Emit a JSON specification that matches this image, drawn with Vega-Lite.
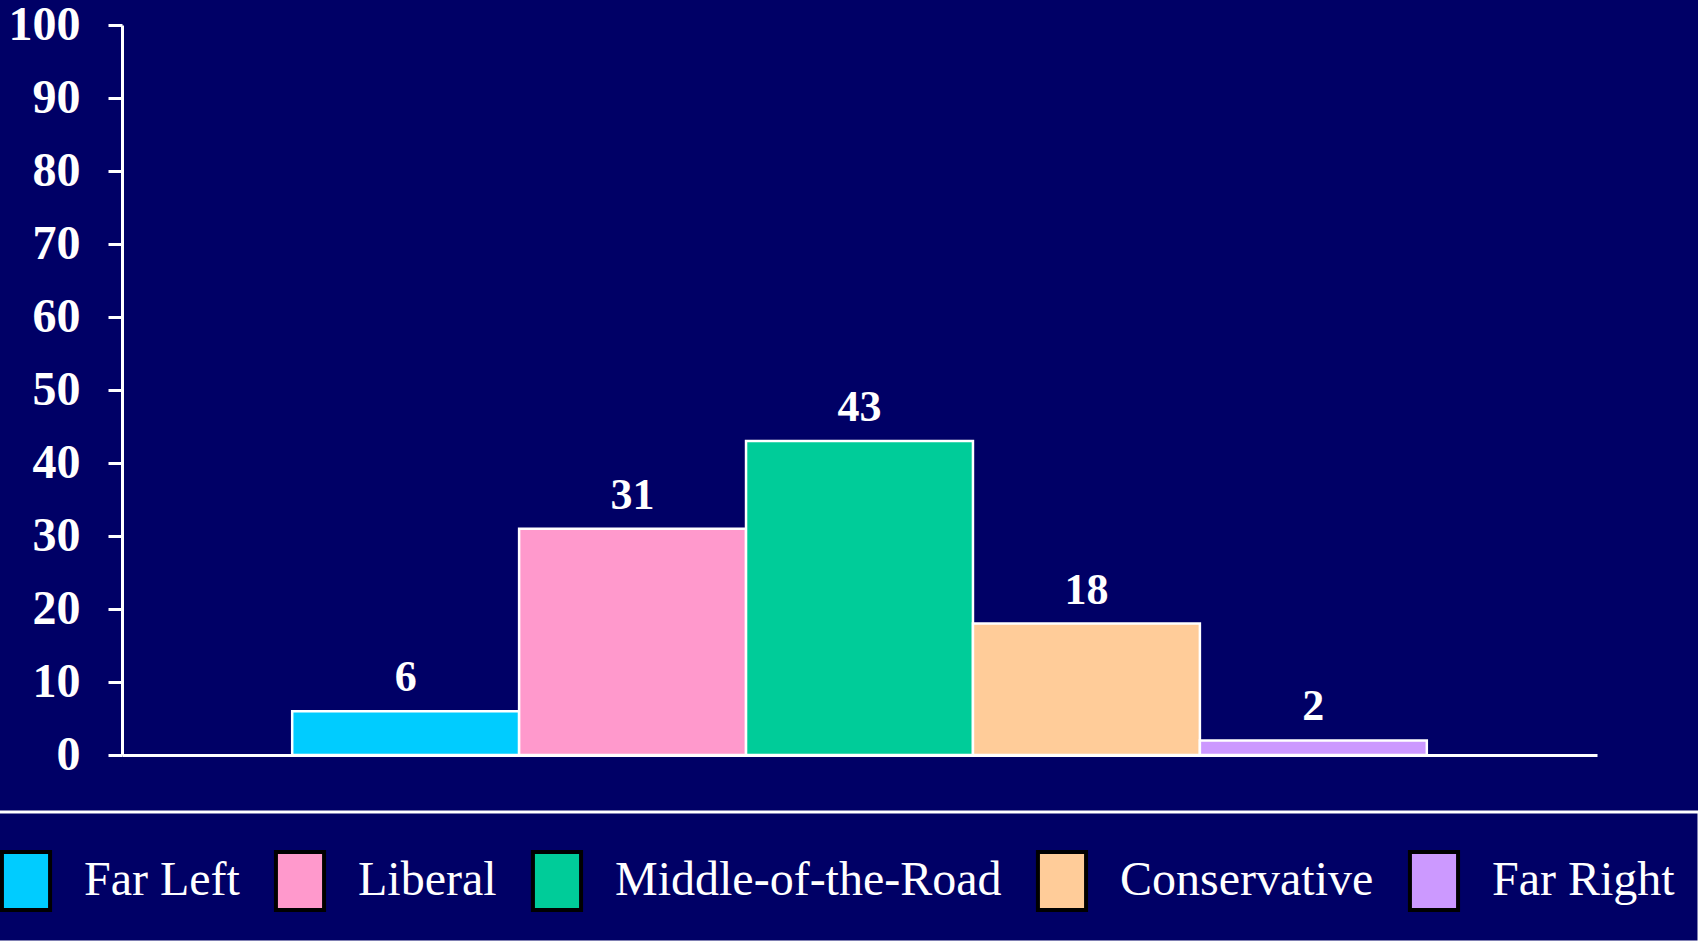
{
  "$schema": "https://vega.github.io/schema/vega-lite/v6.json",
  "width": 1475,
  "height": 730,
  "autosize": {"type": "none"},
  "padding": {"left": 122, "top": 25, "right": 101, "bottom": 187},
  "background": "#000066",
  "config": {"view": {"stroke": null}, "font": "Liberation Serif", "legend": {"strokeWidth": 3}},
  "data": {
    "values": [
      {"category": "Far Left", "value": 6},
      {"category": "Liberal", "value": 31},
      {"category": "Middle-of-the-Road", "value": 43},
      {"category": "Conservative", "value": 18},
      {"category": "Far Right", "value": 2}
    ]
  },
  "encoding": {
    "x": {
      "field": "category",
      "type": "nominal",
      "sort": null,
      "scale": {"paddingInner": 0, "paddingOuter": 0.75},
      "axis": {"labels": false, "ticks": false, "title": null, "domainColor": "white", "domainWidth": 3}
    },
    "y": {
      "field": "value",
      "type": "quantitative",
      "scale": {"domain": [0, 100]},
      "axis": {
        "values": [0, 10, 20, 30, 40, 50, 60, 70, 80, 90, 100],
        "grid": false,
        "title": null,
        "domainColor": "white",
        "domainWidth": 3,
        "tickColor": "white",
        "tickWidth": 3,
        "tickSize": 14,
        "labelColor": "white",
        "labelFont": "Liberation Serif",
        "labelFontWeight": "bold",
        "labelFontSize": 48,
        "labelPadding": 28,
        "labelFlush": false,
        "labelOverlap": false
      }
    }
  },
  "layer": [
    {
      "mark": {"type": "bar", "stroke": "white", "strokeWidth": 2.5},
      "encoding": {
        "fill": {
          "field": "category",
          "type": "nominal",
          "sort": null,
          "scale": {
            "domain": ["Far Left", "Liberal", "Middle-of-the-Road", "Conservative", "Far Right"],
            "range": ["#00CCFF", "#FF99CC", "#00CC99", "#FFCC99", "#CC99FF"]
          },
          "legend": {
            "orient": "none",
            "legendX": -151,
            "legendY": 787,
            "direction": "horizontal",
            "columns": 5,
            "title": " ",
            "titleFontSize": 12,
            "titlePadding": 2,
            "padding": 24,
            "strokeColor": "white",
            "symbolType": "M-0.83,-1H0.83V1H-0.83Z",
            "symbolSize": 3364,
            "symbolStrokeColor": "black",
            "symbolStrokeWidth": 4,
            "symbolOpacity": 1,
            "labelColor": "white",
            "labelFont": "Liberation Serif",
            "labelFontSize": 48,
            "labelOffset": 27,
            "labelLimit": 0,
            "columnPadding": 27
          }
        }
      }
    },
    {
      "mark": {"type": "text", "baseline": "alphabetic", "dy": -20, "fontWeight": "bold", "fontSize": 44, "font": "Liberation Serif", "color": "white"},
      "encoding": {"text": {"field": "value", "type": "quantitative"}}
    }
  ]
}
